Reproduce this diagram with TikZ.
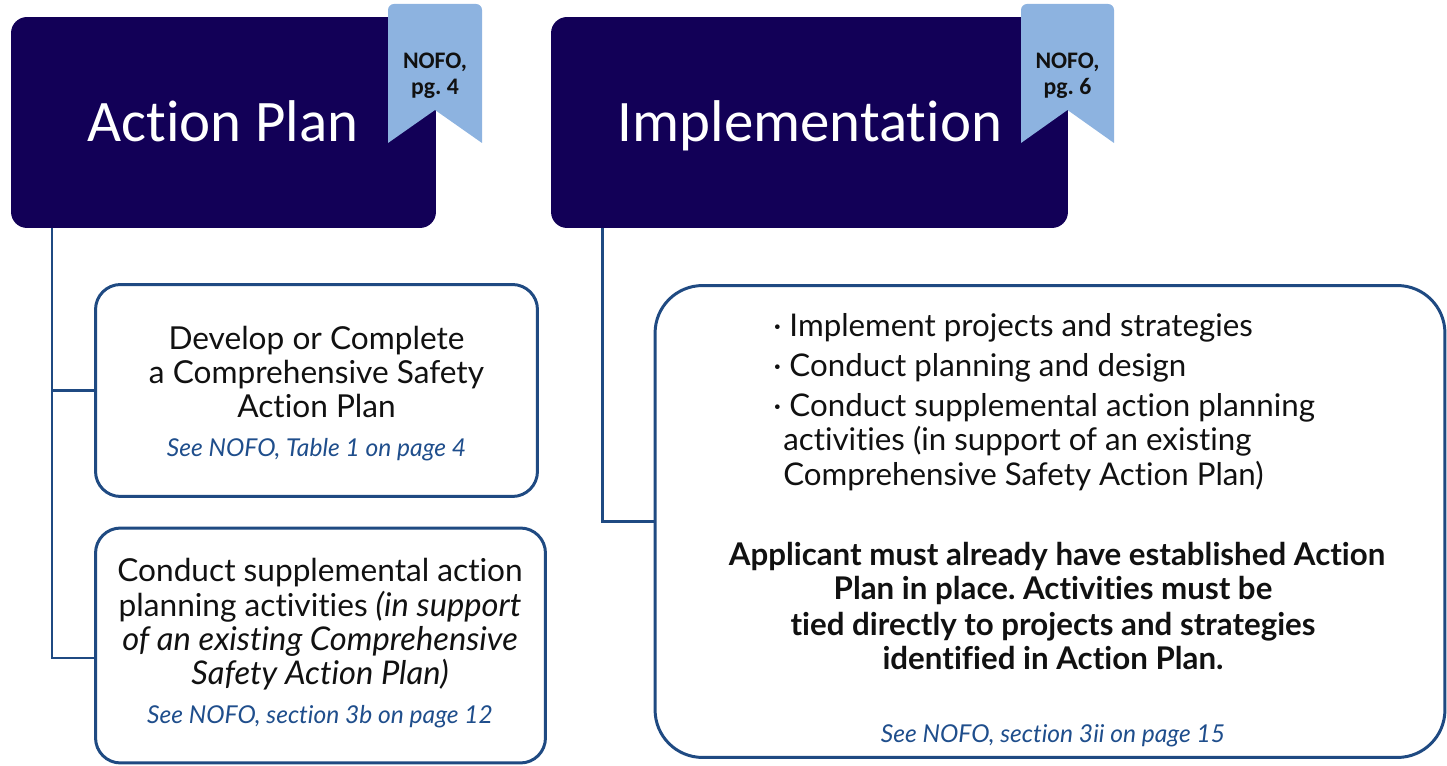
\documentclass[tikz,border=0pt]{standalone}
\usepackage{fontspec}
\setmainfont[Ligatures=NoCommon]{Lato}
\newfontfamily\hdrfont[Ligatures=NoCommon]{Carlito}
\usetikzlibrary{calc}
\frenchspacing
\definecolor{hdrfill}{HTML}{120057}
\definecolor{ribbonc}{HTML}{8DB3E0}
\definecolor{bordc}{HTML}{1F4A82}
\definecolor{refc}{HTML}{1F4E8C}
\definecolor{txtc}{HTML}{111111}
\tikzset{
  header/.style={fill=hdrfill, rounded corners=0.32cm, inner sep=0pt, minimum height=4.22cm},
  hdrtext/.style={anchor=base, text=white, inner sep=0pt, font=\hdrfont\fontsize{33.5}{36}\selectfont},
  ribtext/.style={anchor=base, text=txtc, inner sep=0pt, font=\hdrfont\bfseries\fontsize{13.5}{15}\selectfont},
  ribbon/.style={fill=ribbonc},
  ibox/.style={draw=bordc, line width=1.7pt, fill=white, rounded corners=0.5cm, inner sep=0pt},
  conn/.style={draw=bordc, line width=1.7pt},
  main/.style={anchor=base, inner sep=0pt, text=txtc, font=\fontsize{18}{20}\selectfont},
  bul/.style={anchor=base west, inner sep=0pt, text=txtc, font=\fontsize{17.8}{20}\selectfont},
  boldl/.style={anchor=base, inner sep=0pt, text=txtc, font=\bfseries\fontsize{17.8}{20}\selectfont},
  seeref/.style={anchor=base, inner sep=0pt, text=refc, font=\itshape\fontsize{14}{16}\selectfont},
}
\newcommand{\itl}[1]{{\itshape\fontsize{18.6}{20}\selectfont #1}}
\begin{document}
\begin{tikzpicture}[x=0.02cm,y=-0.02cm]
\useasboundingbox (0,0) rectangle (1447,766);

% headers
\node[header, minimum width=8.5cm] (hdrL) at (223.5,122.5) {};
\node[header, minimum width=10.34cm] (hdrR) at (809.5,122.5) {};
\node[hdrtext] (tL) at (223,142) {Action Plan};
\node[hdrtext] (tR) at (810,142) {Implementation};

% ribbons
\fill[ribbon] (388,143) [rounded corners=0.12cm] -- (388,4) -- (482,4) [sharp corners] -- (482,143) -- (435,110) -- cycle;
\fill[ribbon] (1021,143) [rounded corners=0.12cm] -- (1021,4) -- (1114,4) [sharp corners] -- (1114,143) -- (1067.5,110) -- cycle;
\node[ribtext] (rL1) at (435,69) {NOFO,};
\node[ribtext] (rL2) at (435,95) {pg. 4};
\node[ribtext] (rR1) at (1067.5,69) {NOFO,};
\node[ribtext] (rR2) at (1067.5,95) {pg. 6};

% boxes
\node[ibox, minimum width=8.84cm, minimum height=4.24cm] (b1) at (316.5,390.5) {};
\node[ibox, minimum width=9.0cm, minimum height=4.7cm] (b2) at (320.5,645.5) {};
\node[ibox, rounded corners=0.95cm, minimum width=15.8cm, minimum height=9.44cm] (b3) at (1050,521.5) {};

% connectors
\coordinate (cL) at (52,228);
\coordinate (cR) at (602,228);
\draw[conn] (cL) |- (b1.west);
\draw[conn] (cL) |- ($(b2.west)+(0,12.5)$);
\draw[conn] (cR) |- (b3.west);

% box 1 text
\node[main] (b1a) at (316.5,350) {Develop or Complete};
\node[main] (b1b) at (316.5,384) {a Comprehensive Safety};
\node[main] (b1c) at (316.5,418) {Action Plan};
\node[seeref] (b1d) at (316.5,457) {See NOFO, Table 1 on page 4};

% box 2 text
\node[main] (b2a) at (320,582) {Conduct supplemental action};
\node[main] (b2b) at (320,616) {planning activities \itl{(in support}};
\node[main] (b2c) at (320,650) {\itl{of an existing Comprehensive}};
\node[main] (b2d) at (320,684) {\itl{Safety Action Plan)}};
\node[seeref] (b2e) at (320,723) {See NOFO, section 3b on page 12};

% box 3 text
\node[bul] (b3a) at (773,337) {· Implement projects and strategies};
\node[bul] (b3b) at (773,377) {· Conduct planning and design};
\node[bul] (b3c) at (773,417) {· Conduct supplemental action planning};
\node[bul] (b3d) at (783,451) {activities (in support of an existing};
\node[bul] (b3e) at (783,486) {Comprehensive Safety Action Plan)};
\node[boldl] (b3f) at (1057,565) {Applicant must already have established Action};
\node[boldl] (b3g) at (1053,600) {Plan in place. Activities must be};
\node[boldl] (b3h) at (1053,635) {tied directly to projects and strategies};
\node[boldl] (b3i) at (1053,669) {identified in Action Plan.};
\node[seeref] (b3j) at (1053,742) {See NOFO, section 3ii on page 15};
\end{tikzpicture}
\end{document}
